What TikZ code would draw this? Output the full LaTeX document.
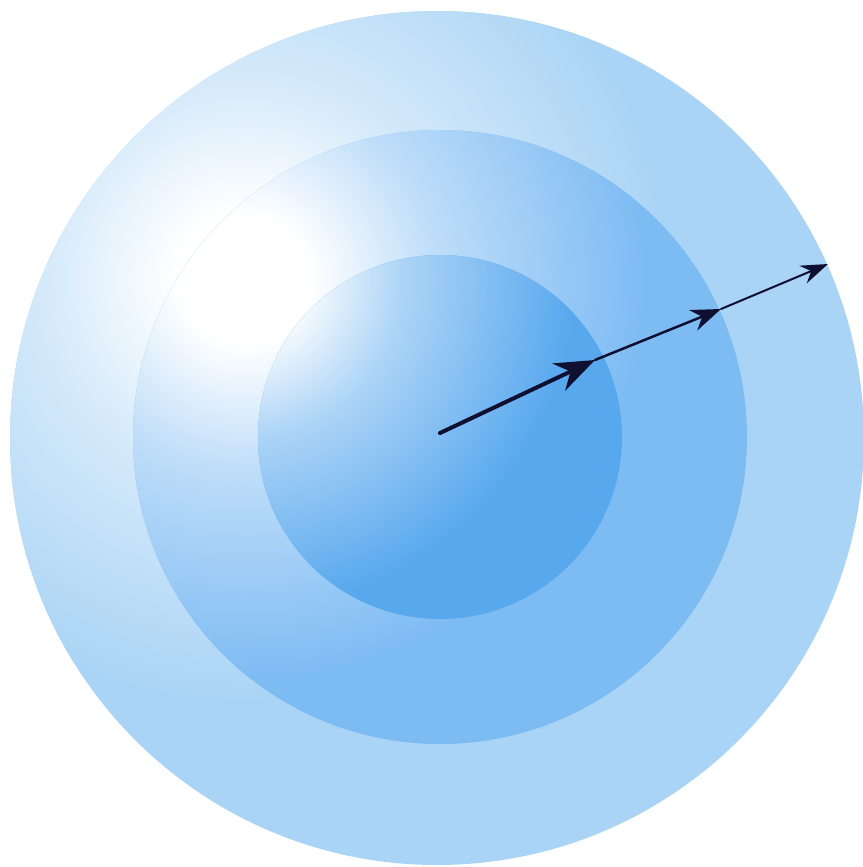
\documentclass[tikz,border=0pt]{standalone}
\usetikzlibrary{arrows.meta}
\definecolor{outerblue}{RGB}{170,212,245}
\definecolor{midblue}{RGB}{125,187,243}
\definecolor{innerblue}{RGB}{88,168,238}
\definecolor{arrowink}{RGB}{15,15,50}
\colorlet{hlbase}{outerblue}
\pgfdeclareradialshading[hlbase]{glow}{\pgfpoint{0bp}{0bp}}{color(0bp)=(white); color(4bp)=(white); color(12bp)=(hlbase!50!white); color(25bp)=(hlbase); color(50bp)=(hlbase)}
\tikzset{
  ray/.style={draw=arrowink, line cap=round},
}
\begin{document}
\begin{tikzpicture}[x=0.1mm,y=-0.1mm]
\useasboundingbox (0,0) rectangle (863,867);
\coordinate (H) at (245,280);
\coordinate (Co) at (437,438);
\coordinate (Cm) at (440,437);
\coordinate (Ci) at (440,437);
% outer layer
\fill[outerblue] (Co) circle (427);
\begin{scope}
  \clip (Co) circle (427);
  \colorlet{hlbase}{outerblue}
  \shade[shading=glow] (H) circle (420);
\end{scope}
% middle layer
\fill[midblue] (Cm) circle (307);
\begin{scope}
  \clip (Cm) circle (307);
  \colorlet{hlbase}{midblue}
  \shade[shading=glow] (H) circle (400);
\end{scope}
% inner layer
\fill[innerblue] (Ci) circle (182);
\begin{scope}
  \clip (Ci) circle (182);
  \colorlet{hlbase}{innerblue}
  \shade[shading=glow] (H) circle (330);
\end{scope}
% rays
\coordinate (O) at (440,433);
\coordinate (A) at (595,360);
\coordinate (B) at (721,309);
\coordinate (C) at (828,264);
\draw[ray, line width=0.4mm, -{Stealth[length=4mm,width=3mm]}] (O) -- (A);
\draw[ray, line width=0.25mm, -{Stealth[length=3mm,width=2.2mm]}] (A) -- (B);
\draw[ray, line width=0.2mm, -{Stealth[length=2.7mm,width=1.9mm]}] (B) -- (C);
\end{tikzpicture}
\end{document}
